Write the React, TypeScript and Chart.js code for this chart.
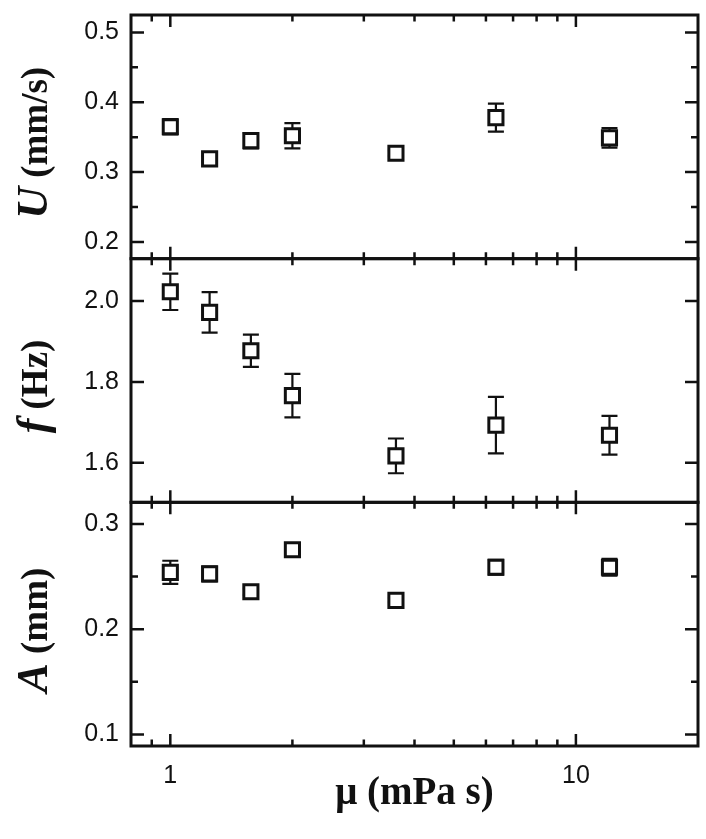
import React, { useEffect, useRef } from "react";
import { Chart, registerables } from "chart.js";
Chart.register(...registerables);

// ---- data ----
const muValues = [1.0, 1.25, 1.58, 2.0, 3.6, 6.35, 12.1];

const speedU = [0.365, 0.319, 0.345, 0.352, 0.327, 0.378, 0.349];
const speedUErr = [0.011, 0.004, 0.011, 0.018, 0.004, 0.02, 0.014];

const freqF = [2.023, 1.972, 1.877, 1.766, 1.617, 1.693, 1.668];
const freqFErr = [0.045, 0.05, 0.04, 0.054, 0.043, 0.07, 0.048];

const ampA = [0.254, 0.2525, 0.2355, 0.2755, 0.2274, 0.2588, 0.2588];
const ampAErr = [0.011, 0.007, 0.003, 0.005, 0.002, 0.007, 0.008];

const xMin = 0.8;
const xMax = 20;

const uRange = [0.176, 0.525];
const fRange = [1.502, 2.105];
const aRange = [0.089, 0.3205];

const uStep = 0.05;
const fStep = 0.2;
const aStep = 0.05;

const xTitle = "μ (mPa s)";

const INK = "#111";
const TICK_FONT = '"Liberation Sans", Arial, sans-serif';
const SERIF = '"Liberation Serif", "Times New Roman", serif';

type Panel = {
  id: string;
  symbol: string;
  unit: string;
  values: number[];
  errors: number[];
  range: number[];
  step: number;
  labelEvery: number;
  weight: number;
};

const panels: Panel[] = [
  { id: "yU", symbol: "U", unit: " (mm/s)", values: speedU, errors: speedUErr, range: uRange, step: uStep, labelEvery: 0.1, weight: 3 },
  { id: "yF", symbol: "f", unit: " (Hz)", values: freqF, errors: freqFErr, range: fRange, step: fStep, labelEvery: 0.2, weight: 2 },
  { id: "yA", symbol: "A", unit: " (mm)", values: ampA, errors: ampAErr, range: aRange, step: aStep, labelEvery: 0.1, weight: 1 },
];

function isMultiple(v: number, m: number) {
  const r = v / m;
  return Math.abs(r - Math.round(r)) < 1e-6;
}
function isDecade(v: number) {
  const l = Math.log10(v);
  return Math.abs(l - Math.round(l)) < 1e-9;
}
function isIntegerSignificand(v: number) {
  const p = Math.pow(10, Math.floor(Math.log10(v) + 1e-9));
  const s = v / p;
  return Math.abs(s - Math.round(s)) < 1e-6;
}

const panelPlugin = {
  id: "panelPlugin",
  beforeDatasetsDraw(chart: any) {
    const ctx = chart.ctx;
    const xs = chart.scales.x;
    ctx.save();
    ctx.strokeStyle = INK;
    ctx.lineWidth = 2.2;
    panels.forEach((p) => {
      const ys = chart.scales[p.id];
      muValues.forEach((m, i) => {
        const px = xs.getPixelForValue(m);
        const yt = ys.getPixelForValue(p.values[i] + p.errors[i]);
        const yb = ys.getPixelForValue(p.values[i] - p.errors[i]);
        ctx.beginPath();
        ctx.moveTo(px, yt);
        ctx.lineTo(px, yb);
        ctx.moveTo(px - 8, yt);
        ctx.lineTo(px + 8, yt);
        ctx.moveTo(px - 8, yb);
        ctx.lineTo(px + 8, yb);
        ctx.stroke();
      });
    });
    ctx.restore();
  },
  afterDraw(chart: any) {
    const ctx = chart.ctx;
    const xs = chart.scales.x;
    const { left, right } = chart.chartArea;
    ctx.save();
    ctx.strokeStyle = INK;
    ctx.fillStyle = INK;
    ctx.lineCap = "butt";

    panels.forEach((p) => {
      const ys = chart.scales[p.id];
      const top = ys.top;
      const bottom = ys.bottom;

      // y ticks, inward on both sides
      ctx.lineWidth = 2.5;
      ys.ticks.forEach((t: any) => {
        const v = t.value;
        if (v < p.range[0] || v > p.range[1]) return;
        const py = ys.getPixelForValue(v);
        const len = isMultiple(v, p.labelEvery) ? 13 : 7;
        ctx.beginPath();
        ctx.moveTo(left, py);
        ctx.lineTo(left + len, py);
        ctx.moveTo(right, py);
        ctx.lineTo(right - len, py);
        ctx.stroke();
      });

      // x ticks, inward at top and bottom of each panel
      xs.ticks.forEach((t: any) => {
        const v = t.value;
        if (v <= xMin * 1.001 || v >= xMax * 0.999) return;
        if (!isIntegerSignificand(v)) return;
        const px = xs.getPixelForValue(v);
        const len = isDecade(v) ? 12 : 6.5;
        ctx.beginPath();
        ctx.moveTo(px, top);
        ctx.lineTo(px, top + len);
        ctx.moveTo(px, bottom);
        ctx.lineTo(px, bottom - len);
        ctx.stroke();
      });

      // frame
      ctx.lineWidth = 3;
      ctx.strokeRect(left, top, right - left, bottom - top);

      // rotated y title with mixed fonts
      const cy = (top + bottom) / 2 + 6;
      const symFont = `italic bold 44px ${SERIF}`;
      const unitFont = `bold 37px ${SERIF}`;
      ctx.font = symFont;
      const w1 = ctx.measureText(p.symbol).width;
      ctx.font = unitFont;
      const w2 = ctx.measureText(p.unit).width;
      const total = w1 + w2;
      ctx.save();
      ctx.translate(47, cy);
      ctx.rotate(-Math.PI / 2);
      ctx.textBaseline = "alphabetic";
      ctx.textAlign = "left";
      ctx.font = symFont;
      ctx.fillText(p.symbol, -total / 2, 0);
      ctx.font = unitFont;
      ctx.fillText(p.unit, -total / 2 + w1, 0);
      ctx.restore();
    });
    ctx.restore();
  },
};

export default function App() {
  const ref = useRef<HTMLCanvasElement>(null);

  useEffect(() => {
    const canvas = ref.current;
    if (!canvas) return;

    const yScales: any = {};
    panels.forEach((p) => {
      yScales[p.id] = {
        type: "linear",
        position: "left",
        stack: "panels",
        stackWeight: 1,
        weight: p.weight,
        min: p.range[0],
        max: p.range[1],
        grid: { display: false },
        border: { display: false },
        ticks: {
          stepSize: p.step,
          includeBounds: false,
          autoSkip: false,
          padding: 4,
          color: INK,
          font: { family: TICK_FONT, size: 25 },
          callback: (v: any) => (isMultiple(Number(v), p.labelEvery) ? Number(v).toFixed(1) : ""),
        },
        afterFit: (s: any) => {
          s.width = 131;
          s.paddingTop = 0;
          s.paddingBottom = 0;
        },
      };
    });

    const chart = new Chart(canvas, {
      type: "scatter",
      data: {
        datasets: panels.map((p) => ({
          label: p.symbol,
          yAxisID: p.id,
          xAxisID: "x",
          data: muValues.map((m, i) => ({ x: m, y: p.values[i] })),
          pointStyle: "rect",
          pointRadius: 10,
          pointHoverRadius: 10,
          pointBorderWidth: 3,
          borderColor: INK,
          backgroundColor: "#fff",
          showLine: false,
        })),
      } as any,
      options: {
        responsive: false,
        devicePixelRatio: 1,
        animation: false,
        events: [],
        layout: { autoPadding: false, padding: { left: 0, top: 15, right: 8, bottom: 0 } },
        plugins: { legend: { display: false }, tooltip: { enabled: false } },
        scales: {
          x: {
            type: "logarithmic",
            position: "bottom",
            min: xMin,
            max: xMax,
            grid: { display: false },
            border: { display: false },
            ticks: {
              autoSkip: false,
              maxRotation: 0,
              minRotation: 0,
              padding: 7,
              color: INK,
              font: { family: TICK_FONT, size: 25 },
              callback: (v: any) => (isDecade(Number(v)) ? String(Number(v)) : ""),
            },
            title: {
              display: true,
              text: xTitle,
              color: INK,
              font: { family: SERIF, size: 39, weight: "bold" },
              padding: { top: 0, bottom: 22 },
            },
            afterFit: (s: any) => {
              s.height = 93;
              s.paddingLeft = 0;
              s.paddingRight = 0;
            },
          },
          ...yScales,
        },
      } as any,
      plugins: [panelPlugin],
    });

    return () => chart.destroy();
  }, []);

  return (
    <div style={{ position: "absolute", left: 0, top: 0, width: 706, height: 839, background: "#fff" }}>
      <canvas ref={ref} width={706} height={839} style={{ display: "block", width: 706, height: 839 }} />
    </div>
  );
}
